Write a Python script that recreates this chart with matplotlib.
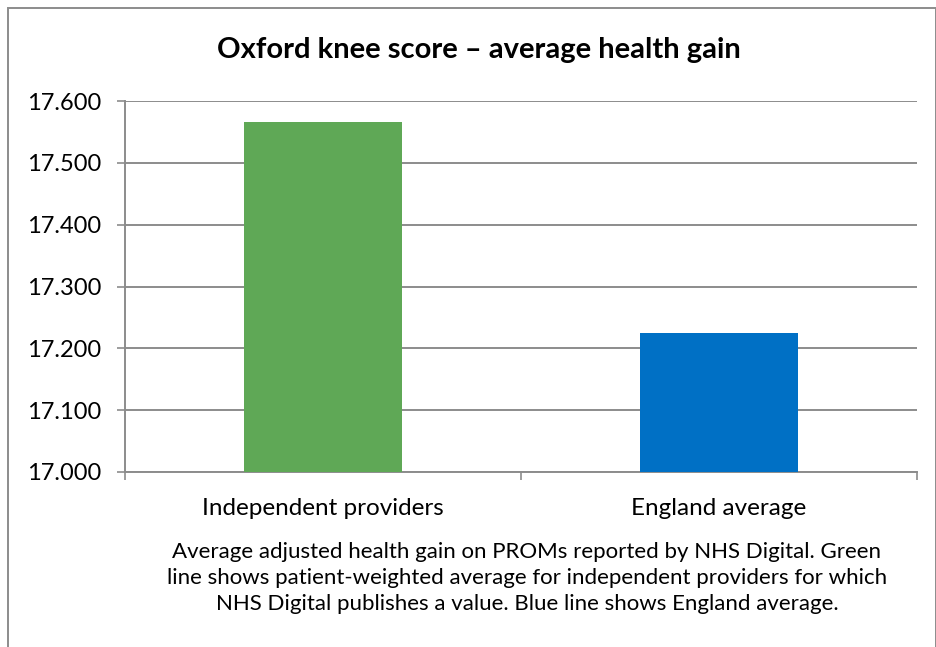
import matplotlib.pyplot as plt
from matplotlib.patches import Rectangle
from matplotlib.ticker import FormatStrFormatter

categories = ['Independent providers', 'England average']
values = [17.566, 17.224]
colors = ['#5fa856', '#0070c5']
yticks = [17.0, 17.1, 17.2, 17.3, 17.4, 17.5, 17.6]

plt.rcParams['font.family'] = ['Lato', 'DejaVu Sans']

fig = plt.figure(figsize=(9.37, 6.47), dpi=100)
ax = fig.add_axes([125 / 937, 1 - 472 / 647, 792 / 937, 371 / 647])

x = list(range(len(categories)))
ax.bar(x, [v - 17.0 for v in values], 0.4, bottom=17.0, color=colors, zorder=3)

ax.set_xlim(-0.5, 1.5)
ax.set_ylim(17.0, 17.6)
ax.set_yticks(yticks)
ax.yaxis.set_major_formatter(FormatStrFormatter('%.3f'))
ax.grid(axis='y', color='#8c8c8c', linewidth=1.4, zorder=0)
ax.set_xticks([-0.5, 0.5, 1.5])
ax.set_xticklabels([])
ax.set_xticks(x, minor=True)
ax.set_xticklabels(categories, minor=True, fontsize=17.5)
ax.tick_params(axis='x', which='minor', length=0, pad=19)
ax.tick_params(axis='x', which='major', length=6, color='#8c8c8c', width=1.2)
ax.tick_params(axis='y', length=6, color='#8c8c8c', width=1.2, labelsize=17, pad=11)
for s in ['top', 'right']:
    ax.spines[s].set_visible(False)
for s in ['left', 'bottom']:
    ax.spines[s].set_color('#8c8c8c')
    ax.spines[s].set_linewidth(1.4)

fig.text(479 / 937, 1 - 50 / 647, 'Oxford knee score \u2013 average health gain',
         ha='center', va='center', fontsize=21, fontweight='bold')
fig.text(527 / 937, 1 - 578 / 647,
         'Average adjusted health gain on PROMs reported by NHS Digital. Green\n'
         'line shows patient-weighted average for independent providers for which\n'
         'NHS Digital publishes a value. Blue line shows England average.',
         ha='center', va='center', fontsize=16, linespacing=1.35)

fig.patches.append(Rectangle((8 / 937, -0.01), 1 - 9 / 937, 1 - 8 / 647 + 0.01,
                             transform=fig.transFigure, fill=False,
                             edgecolor='#8c8c8c', linewidth=1.4))

fig.savefig('out.png', dpi=100)
